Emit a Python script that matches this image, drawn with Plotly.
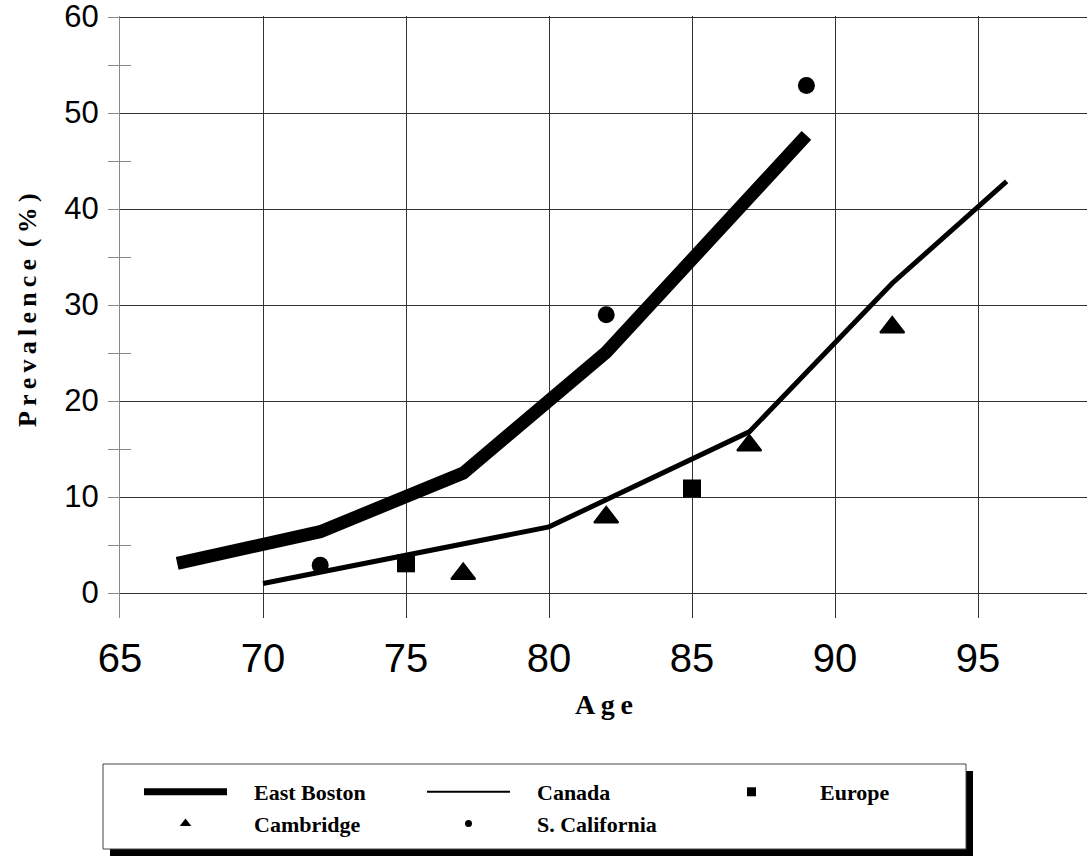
import plotly.graph_objects as go

# ---- data ----
boston_age = [67, 72, 77, 82, 89]
boston_prev = [3.1, 6.4, 12.5, 25.1, 47.7]

canada_age = [70, 80, 87, 92, 96]
canada_prev = [1.0, 6.9, 16.8, 32.3, 42.9]

europe_age = [75, 85]
europe_prev = [3.1, 10.9]

cambridge_age = [77, 82, 87, 92]
cambridge_prev = [2.0, 7.9, 15.4, 27.7]

calif_age = [72, 82, 89]
calif_prev = [2.9, 29.0, 52.9]

x_ticks = [65, 70, 75, 80, 85, 90, 95]
y_ticks = [0, 10, 20, 30, 40, 50, 60]

# the page body margin is removed after plotting (see post_script below)
OFF = 0
W, H = 1087, 860
L, R, T, B = 120, 0, 16, 242
PW, PH = W - L - R, H - T - B


def px(xs):  # screen x -> paper x
    return (xs - OFF - L) / PW


def py(ys):  # screen y -> paper y
    return (H - B - (ys - OFF)) / PH


fig = go.Figure()

# plotted series (legend handled by separate entries below)
fig.add_trace(go.Scatter(x=boston_age, y=boston_prev, mode="lines",
                         line=dict(color="black", width=13), showlegend=False,
                         name="East Boston"))
fig.add_trace(go.Scatter(x=canada_age, y=canada_prev, mode="lines",
                         line=dict(color="black", width=5), showlegend=False,
                         name="Canada"))
fig.add_trace(go.Scatter(x=europe_age, y=europe_prev, mode="markers",
                         marker=dict(symbol="square", size=18, color="black"),
                         showlegend=False, name="Europe"))
fig.add_trace(go.Scatter(x=cambridge_age, y=cambridge_prev, mode="markers",
                         marker=dict(symbol="triangle-up", size=21, color="black",
                                     line=dict(color="black", width=2)),
                         showlegend=False, name="Cambridge"))
fig.add_trace(go.Scatter(x=calif_age, y=calif_prev, mode="markers",
                         marker=dict(symbol="circle", size=17, color="black"),
                         showlegend=False, name="S. California"))

# legend entries
pad = "\u00a0" * 4
fig.add_trace(go.Scatter(x=[None], y=[None], mode="lines", name=pad + "East Boston",
                         line=dict(color="black", width=7)))
fig.add_trace(go.Scatter(x=[None], y=[None], mode="lines", name=pad + "Canada",
                         line=dict(color="black", width=2)))
fig.add_trace(go.Scatter(x=[None], y=[None], mode="markers", name=pad + "Europe",
                         marker=dict(symbol="square", size=9, color="black")))
fig.add_trace(go.Scatter(x=[None], y=[None], mode="markers", name=pad + "Cambridge",
                         marker=dict(symbol="triangle-up", size=10, color="black")))
fig.add_trace(go.Scatter(x=[None], y=[None], mode="markers", name=pad + "S. California",
                         marker=dict(symbol="circle", size=7, color="black")))

# helper trace for the overlay axis carrying the inner half of the minor ticks
fig.add_trace(go.Scatter(x=[None], y=[None], yaxis="y2", showlegend=False,
                         hoverinfo="skip"))

grid = "#333333"
yrange = [-2.6, 60.15]

fig.update_layout(
    width=W, height=H,
    margin=dict(l=L, r=R, t=T, b=B, autoexpand=False),
    plot_bgcolor="white", paper_bgcolor="white",
    xaxis=dict(range=[65, 98.81], tickvals=x_ticks, ticktext=[str(v) for v in x_ticks],
               showgrid=True, gridcolor=grid, gridwidth=1, zeroline=False,
               showline=False, ticks="", ticklabelstandoff=13, automargin=False,
               ticklabeloverflow="allow",
               tickfont=dict(family="Liberation Sans", size=40, color="black")),
    yaxis=dict(range=yrange, tickvals=y_ticks, ticktext=[str(v) for v in y_ticks],
               showgrid=True, gridcolor=grid, gridwidth=1, zeroline=False,
               showline=True, linecolor="#888888", linewidth=1, ticks="",
               ticklabelstandoff=14, ticklabelshift=-1, ticklabeloverflow="allow",
               automargin=False,
               minor=dict(ticks="outside", ticklen=11, tickcolor="#888888",
                          tickwidth=1, dtick=5, tick0=0, showgrid=False),
               tickfont=dict(family="Liberation Sans", size=31, color="black")),
    yaxis2=dict(range=yrange, overlaying="y", side="left", showgrid=False,
                zeroline=False, showline=False, showticklabels=False, ticks="",
                dtick=10, tick0=0, automargin=False,
                minor=dict(ticks="inside", ticklen=11, tickcolor="#888888",
                           tickwidth=1, dtick=5, tick0=0, showgrid=False)),
    legend=dict(orientation="h", xref="container", yref="container",
                x=(139 - OFF) / W, y=1 - (771 - OFF) / H, xanchor="left", yanchor="top",
                bgcolor="rgba(0,0,0,0)", borderwidth=0,
                itemwidth=83, entrywidth=185, entrywidthmode="pixels",
                font=dict(family="Liberation Serif", size=22, color="black",
                          weight=700)),
    annotations=[
        dict(text="P\u2009r\u2009e\u2009v\u2009a\u2009l\u2009e\u2009n\u2009c\u2009e\u00a0\u2009(\u2009%\u2009)",
             xref="paper", yref="paper", x=px(27), y=py(310), textangle=-90,
             showarrow=False, xanchor="center", yanchor="middle",
             font=dict(family="Liberation Serif", size=26, color="black", weight=700)),
        dict(text="A\u2009g\u2009e", xref="paper", yref="paper", x=px(604), y=py(704),
             showarrow=False, xanchor="center", yanchor="middle",
             font=dict(family="Liberation Serif", size=28, color="black", weight=700)),
    ],
    shapes=[
        dict(type="rect", xref="paper", yref="paper",
             x0=px(110), x1=px(973), y0=py(856), y1=py(771),
             fillcolor="black", line=dict(width=0), layer="above"),
        dict(type="rect", xref="paper", yref="paper",
             x0=px(103), x1=px(966), y0=py(849), y1=py(764),
             fillcolor="white", line=dict(color="#444444", width=1), layer="above"),
    ],
)

fig.write_html("out.html", config={"displayModeBar": False},
               post_script="document.body.style.margin='0px';")
